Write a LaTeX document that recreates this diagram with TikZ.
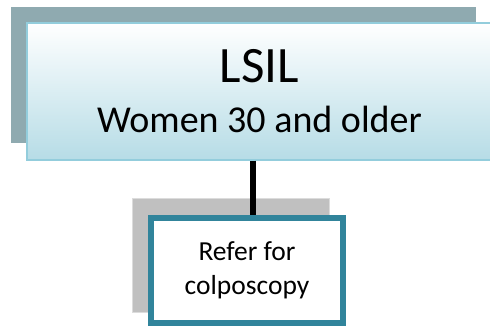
\documentclass[tikz,border=0pt]{standalone}
\usepackage{fontspec}
\setmainfont{Carlito}
\definecolor{backgray}{HTML}{8FAAB0}
\definecolor{paleblue}{HTML}{93CDDC}
\definecolor{shadeblue}{HTML}{B6DCE6}
\definecolor{lightgray}{HTML}{C0C0C0}
\definecolor{graybord}{HTML}{DCDCDC}
\definecolor{teal}{HTML}{31849B}
\tikzset{
  x=1pt, y=1pt,
  shadowbox/.style={draw=none, fill=backgray, inner sep=0pt},
  mainbox/.style={draw=paleblue, line width=1.5pt, top color=white, bottom color=shadeblue,
    inner sep=0pt, align=center, font=\fontsize{38}{50}\selectfont},
  smallshadow/.style={draw=graybord, line width=1pt, fill=lightgray, inner sep=0pt},
  stepbox/.style={draw=teal, line width=6pt, fill=white, inner sep=0pt, align=center,
    font=\fontsize{27.5}{34}\selectfont},
  link/.style={line width=6pt, black}
}
\begin{document}
\begin{tikzpicture}
\useasboundingbox (0,0) rectangle (490,327);
% back plate of the heading box
\node[shadowbox, minimum width=465pt, minimum height=136pt] (topback) at (243.5,252) {};
% heading box
\node[mainbox, minimum width=465pt, minimum height=137pt] (top) at (259.5,235.5)
  {{\fontsize{51}{50}\selectfont LSIL}\\Women 30 and older};
% back plate of the referral box
\node[smallshadow, minimum width=197pt, minimum height=114pt] (lowback) at (231,71.5) {};
% referral box
\node[stepbox, minimum width=192pt, minimum height=105pt] (low) at (247,56.5)
  {Refer for\\colposcopy};
% connector between the two boxes
\draw[link] (top.south -| 253,0) -- (low.north -| 253,0);
\end{tikzpicture}
\end{document}
